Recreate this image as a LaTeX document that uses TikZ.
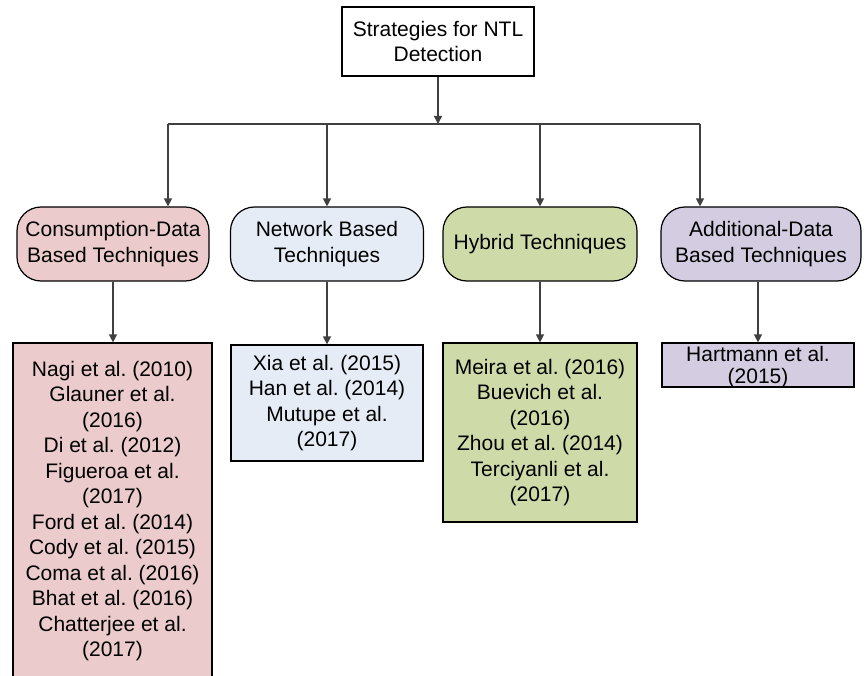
\documentclass[tikz,border=0pt]{standalone}
\usepackage{fontspec}
\setmainfont{Liberation Sans}
\usetikzlibrary{arrows.meta}
\frenchspacing
\definecolor{cpink}{HTML}{EBCBCB}
\definecolor{cblue}{HTML}{E6ECF6}
\definecolor{cgreen}{HTML}{CEDBA8}
\definecolor{cpurple}{HTML}{D4CCE0}
\definecolor{cline}{HTML}{404040}
\tikzset{
  base/.style={draw=black, line width=1.2pt, align=center, inner sep=0pt,
    font=\fontsize{21}{25.5}\selectfont\frenchspacing, text=black},
  topbox/.style={base, fill=white, minimum width=192pt, minimum height=69pt},
  catbox/.style={base, rounded corners=24pt, minimum width=#1, minimum height=74pt},
  refbox/.style={base, minimum width=#1},
  conn/.style={draw=cline, line width=1.3pt},
  arr/.style={conn, -{Triangle[width=8pt,length=8pt]}},
}
\begin{document}
\begin{tikzpicture}[x=1pt,y=-1pt]
\useasboundingbox (0,0) rectangle (867,676);
\node[topbox] (top) at (438,41.5) {Strategies for NTL\\Detection};
\node[catbox=192pt, fill=cpink] (cons) at (113,244) {Consumption-Data\\Based Techniques};
\node[catbox=193pt, fill=cblue] (net) at (327,244) {Network Based\\Techniques};
\node[catbox=194pt, fill=cgreen] (hyb) at (540,244) {Hybrid Techniques};
\node[catbox=200pt, fill=cpurple] (add) at (761,244) {Additional-Data\\Based Techniques};

\node[refbox=199pt, fill=cpink, minimum height=336pt] (consr) at (112.5,511)
  {Nagi et al. (2010)\\Glauner et al.\\(2016)\\Di et al. (2012)\\Figueroa et al.\\(2017)\\Ford et al. (2014)\\Cody et al. (2015)\\Coma et al. (2016)\\Bhat et al. (2016)\\Chatterjee et al.\\(2017)};
\node[refbox=192pt, fill=cblue, minimum height=116pt] (netr) at (327,403)
  {Xia et al. (2015)\\Han et al. (2014)\\Mutupe et al.\\(2017)};
\node[refbox=194pt, fill=cgreen, minimum height=179pt] (hybr) at (540,432.5)
  {Meira et al. (2016)\\Buevich et al.\\(2016)\\Zhou et al. (2014)\\Terciyanli et al.\\(2017)};
\node[refbox=192pt, fill=cpurple, minimum height=44pt, text height=38pt, text depth=2pt,
  font=\fontsize{21}{22}\selectfont\frenchspacing] (addr) at (758,365)
  {Hartmann et al.\\(2015)};

\coordinate (busL) at (168,124);
\coordinate (busR) at (700,124);
\draw[conn] (busL) -- (busR);
\draw[arr] (top.south) -- (top.south |- busL);
\draw[arr] (busL) -- (busL |- cons.north);
\draw[arr] (net.north |- busL) -- (net.north);
\draw[arr] (hyb.north |- busL) -- (hyb.north);
\draw[arr] (busR) -- (busR |- add.north);

\draw[arr] (cons.south) -- (cons.south |- consr.north);
\draw[arr] (net.south) -- (net.south |- netr.north);
\draw[arr] (hyb.south) -- (hyb.south |- hybr.north);
\draw[arr] (add.south -| addr.north) -- (addr.north);
\end{tikzpicture}
\end{document}
